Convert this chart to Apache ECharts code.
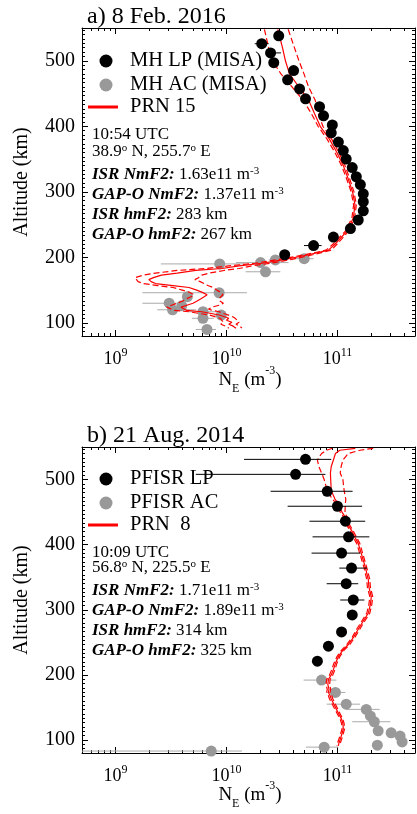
<!DOCTYPE html>
<html>
<head>
<meta charset="utf-8">
<script src="https://cdn.jsdelivr.net/npm/echarts@6/dist/echarts.min.js"></script>
<style>
html, body { margin: 0; padding: 0; background: #fff; }
#container { width: 417px; height: 814px; }
</style>
</head>
<body>
<div id="container"></div>
<script>
// ---- panel a) 8 Feb. 2016, Millstone Hill ----
var aLpAlt = [538, 526, 512, 497, 485, 471, 457, 442, 430, 416, 402, 390, 376, 363, 350, 337, 323, 311, 297, 285, 271, 257, 244, 231, 218, 204];
var aLpNe  = [2.96e10, 2.08e10, 2.5e10, 2.67e10, 4.03e10, 3.56e10, 4.56e10, 5.16e10, 6.9e10, 7.5e10, 9.0e10, 8.8e10, 1.02e11, 1.13e11, 1.2e11, 1.36e11, 1.48e11, 1.61e11, 1.71e11, 1.71e11, 1.71e11, 1.54e11, 1.31e11, 9.2e10, 6.1e10, 3.35e10];
var aLpLo  = [2.7e10, 1.8e10, 2.3e10, null, null, null, null, null, null, null, null, null, null, null, null, null, null, null, null, null, null, null, null, null, 5.0e10, null];
var aLpHi  = [3.3e10, 2.4e10, 3.1e10, null, null, null, null, null, null, null, null, null, null, null, null, null, null, null, null, null, null, null, null, null, 7.2e10, null];

var aAcAlt = [190, 192, 196, 198, 178, 146, 140, 130, 120, 126, 117, 112, 107, 90];
var aAcNe  = [8.7e9, 2.03e10, 2.76e10, 5.02e10, 2.25e10, 8.6e9, 4.45e9, 3.05e9, 3.27e9, 3.96e9, 6.15e9, 8.98e9, 6.15e9, 6.68e9];
var aAcLo  = [2.57e9, 1.22e10, 2.4e10, 4.2e10, 1.49e10, 1.75e9, null, 1.75e9, 2.38e9, null, 4.6e9, 7.7e9, 4.9e9, 5.3e9];
var aAcHi  = [1.44e10, 3.63e10, 3.4e10, 6.1e10, 3.06e10, 1.53e10, null, 4.16e9, 5.32e9, null, 8.06e9, 1.05e10, 7.7e9, 8.06e9];

var aPrnAlt = [548, 520, 500, 480, 460, 440, 420, 400, 380, 360, 340, 320, 300, 280, 260, 240, 220, 211, 204, 197, 191, 187, 183, 180, 176, 173, 169, 166, 163, 160, 157, 154, 150, 147, 143, 140, 137, 133, 130, 127, 124, 121, 119, 117, 114, 112, 109, 107, 104, 101, 98, 95, 92];
var aPrnNe  = [2.9e10, 3.2e10, 3.4e10, 3.7e10, 4.5e10, 5.5e10, 6.2e10, 7.0e10, 8.5e10, 9.9e10, 1.13e11, 1.25e11, 1.37e11, 1.44e11, 1.39e11, 1.22e11, 9.5e10, 8.3e10, 5.5e10, 3.4e10, 2.1e10, 1.3e10, 9.1e9, 5.3e9, 3.6e9, 2.6e9, 2.2e9, 2.0e9, 2.1e9, 2.3e9, 3.3e9, 4.6e9, 5.4e9, 6.0e9, 6.7e9, 6.3e9, 5.9e9, 5.4e9, 5.0e9, 4.4e9, 3.9e9, 3.8e9, 4.4e9, 6.0e9, 7.5e9, 8.6e9, 9.8e9, 1.05e10, 1.0e10, 1.12e10, 1.05e10, 1.15e10, 1.22e10];
var aPrnLo  = [2.2e10, 2.4e10, 2.6e10, 3.1e10, 3.9e10, 4.9e10, 5.8e10, 6.7e10, 8.1e10, 9.5e10, 1.09e11, 1.21e11, 1.33e11, 1.4e11, 1.35e11, 1.18e11, 9.1e10, 7.9e10, 5.1e10, 3.0e10, 1.8e10, 1.05e10, 6.5e9, 3.6e9, 2.3e9, 1.8e9, 1.5e9, 1.5e9, 1.6e9, 1.8e9, 2.4e9, 3.3e9, 4.0e9, 4.6e9, 5.1e9, 4.8e9, 4.4e9, 4.0e9, 3.6e9, 3.2e9, 2.9e9, 2.9e9, 3.4e9, 4.6e9, 5.9e9, 7.0e9, 8.1e9, 8.8e9, 8.5e9, 9.4e9, 8.9e9, 9.8e9, 1.05e10];
var aPrnHi  = [3.6e10, 4.1e10, 4.5e10, 5.0e10, 5.5e10, 6.3e10, 6.7e10, 7.4e10, 8.9e10, 1.03e11, 1.17e11, 1.29e11, 1.41e11, 1.48e11, 1.43e11, 1.26e11, 9.9e10, 8.8e10, 6.0e10, 3.9e10, 2.5e10, 1.7e10, 1.3e10, 9.5e9, 7.0e9, 6.0e9, 5.6e9, 5.2e9, 5.8e9, 6.3e9, 6.8e9, 7.6e9, 8.2e9, 8.8e9, 9.3e9, 9.0e9, 8.6e9, 8.8e9, 9.4e9, 8.6e9, 7.4e9, 6.9e9, 7.5e9, 8.6e9, 9.6e9, 1.04e10, 1.15e10, 1.2e10, 1.18e10, 1.3e10, 1.22e10, 1.32e10, 1.38e10];

// ---- panel b) 21 Aug. 2014, Poker Flat ----
var bLpAlt = [531, 508, 482, 459, 436, 412, 387, 364, 340, 315, 292, 266, 244, 221];
var bLpNe  = [5.16e10, 4.2e10, 8.1e10, 1.0e11, 1.18e11, 1.26e11, 1.09e11, 1.34e11, 1.2e11, 1.39e11, 1.36e11, 1.09e11, 8.3e10, 6.6e10];
var bLpLo  = [1.44e10, 5.3e9, 2.5e10, 3.56e10, 5.6e10, 5.97e10, 5.85e10, 1.04e11, 8.0e10, 1.06e11, null, null, null, null];
var bLpHi  = [8.8e10, 7.8e10, 1.37e11, 1.67e11, 1.78e11, 1.94e11, 1.61e11, 1.85e11, 1.54e11, 1.75e11, null, null, null, null];

var bAcAlt = [192, 173, 155, 147, 137, 128, 114, 111, 106, 97, 92, 89, 83];
var bAcNe  = [7.2e10, 9.6e10, 1.2e11, 1.82e11, 1.98e11, 2.15e11, 2.33e11, 3.05e11, 3.67e11, 3.83e11, 2.29e11, 7.6e10, 7.3e9];
var bAcLo  = [4.96e10, 8.0e10, 8.0e10, 1.2e11, null, 1.36e11, null, null, null, null, null, 5.2e10, 5e8];
var bAcHi  = [9.8e10, 1.18e11, 1.6e11, 2.4e11, null, 3.0e11, null, null, null, null, null, 1.02e11, 1.38e10];

var bPrnAlt = [548, 545, 540, 530, 520, 510, 500, 483, 470, 463, 450, 442, 430, 422, 410, 402, 385, 366, 346, 335, 320, 308, 295, 282, 270, 258, 247, 238, 228, 218, 208, 200, 193, 185, 178, 173, 168, 163, 155, 147, 140, 132, 125, 117, 110, 101, 95, 91];
var bPrnNe  = [1.45e11, 1.05e11, 9.6e10, 9.2e10, 8.8e10, 8.65e10, 8.7e10, 8.8e10, 9.5e10, 1.02e11, 1.1e11, 1.18e11, 1.25e11, 1.34e11, 1.45e11, 1.54e11, 1.65e11, 1.78e11, 1.9e11, 1.92e11, 2.02e11, 1.98e11, 1.9e11, 1.7e11, 1.54e11, 1.4e11, 1.26e11, 1.12e11, 1.02e11, 9.6e10, 9.2e10, 8.8e10, 8.3e10, 8.2e10, 8.4e10, 8.3e10, 8.6e10, 8.8e10, 9.3e10, 9.8e10, 1.03e11, 1.09e11, 1.12e11, 1.13e11, 1.1e11, 1.06e11, 1.03e11, 1.02e11];
var bPrnLo  = [9.0e10, 8.0e10, 7.2e10, 6.6e10, 6.8e10, 7.2e10, 7.6e10, 8.1e10, 9.0e10, 9.8e10, 1.06e11, 1.14e11, 1.21e11, 1.3e11, 1.4e11, 1.49e11, 1.6e11, 1.73e11, 1.84e11, 1.86e11, 1.96e11, 1.92e11, 1.84e11, 1.65e11, 1.49e11, 1.36e11, 1.22e11, 1.09e11, 9.9e10, 9.3e10, 8.9e10, 8.5e10, 8.0e10, 7.9e10, 8.1e10, 8.0e10, 8.3e10, 8.5e10, 9.0e10, 9.5e10, 1.0e11, 1.06e11, 1.09e11, 1.1e11, 1.07e11, 1.03e11, 1.0e11, 9.9e10];
var bPrnHi  = [2.1e11, 1.6e11, 1.25e11, 1.12e11, 1.08e11, 1.06e11, 1.12e11, 1.15e11, 1.19e11, 1.18e11, 1.17e11, 1.22e11, 1.29e11, 1.38e11, 1.5e11, 1.59e11, 1.7e11, 1.83e11, 1.96e11, 1.98e11, 2.08e11, 2.04e11, 1.96e11, 1.75e11, 1.59e11, 1.44e11, 1.3e11, 1.15e11, 1.05e11, 9.9e10, 9.5e10, 9.1e10, 8.6e10, 8.5e10, 8.7e10, 8.6e10, 8.9e10, 9.1e10, 9.6e10, 1.01e11, 1.06e11, 1.12e11, 1.15e11, 1.16e11, 1.13e11, 1.09e11, 1.06e11, 1.05e11];

// ---- axes ----
var xMin = 5e8, xMax = 5e11;
var yMin = 80, yMax = 550;
var xMajor = [1e9, 1e10, 1e11];
var xMinor = [6e8, 7e8, 8e8, 9e8, 2e9, 3e9, 4e9, 5e9, 6e9, 7e9, 8e9, 9e9, 2e10, 3e10, 4e10, 5e10, 6e10, 7e10, 8e10, 9e10, 2e11, 3e11, 4e11];
var yMajor = [100, 200, 300, 400, 500];
var yMinor = [];
for (var t = 0; t <= 70; t++) yMinor.push(80 + t * 100 / 15);

var FONT = 'Liberation Serif';

var myChart = echarts.init(document.getElementById('container'));

function pairs(xs, ys) {
    return xs.map(function (x, i) { return [x, ys[i]]; });
}
function barItems(lo, hi, alt) {
    var out = [];
    for (var i = 0; i < alt.length; i++) {
        if (lo[i] != null) out.push([lo[i], hi[i], alt[i]]);
    }
    return out;
}
function renderBar(params, api) {
    var p1 = api.coord([api.value(0), api.value(2)]);
    var p2 = api.coord([api.value(1), api.value(2)]);
    return {
        type: 'line',
        shape: { x1: p1[0], y1: p1[1], x2: p2[0], y2: p2[1] },
        style: { stroke: api.visual('color'), lineWidth: 1 }
    };
}

var grids = [
    { left: 82, top: 28, width: 333, height: 308 },
    { left: 82, top: 447, width: 333, height: 306 }
];

var xAxes = [], yAxes = [];
grids.forEach(function (g, gi) {
    var line = { onZero: false, lineStyle: { color: '#000', width: 1 } };
    var xBase = { gridIndex: gi, type: 'log', logBase: 10, min: xMin, max: xMax, splitLine: { show: false } };
    xAxes.push(Object.assign({}, xBase, {
        position: 'bottom',
        axisLine: line,
        axisTick: { inside: true, length: 6, customValues: xMajor, lineStyle: { color: '#000' } },
        axisLabel: {
            customValues: xMajor, margin: 11, color: '#000',
            formatter: function (v) {
                var e = Math.round(Math.log(v) / Math.LN10);
                return '{b|10}{s|' + e + '}';
            },
            rich: {
                b: { fontFamily: FONT, fontSize: 18, lineHeight: 24, color: '#000' },
                s: { fontFamily: FONT, fontSize: 12, lineHeight: 10, verticalAlign: 'top', color: '#000' }
            }
        }
    }));
    xAxes.push(Object.assign({}, xBase, {
        position: 'bottom', axisLine: { show: false, onZero: false },
        axisTick: { inside: true, length: 3, customValues: xMinor, lineStyle: { color: '#000' } },
        axisLabel: { show: false }
    }));
    xAxes.push(Object.assign({}, xBase, {
        position: 'top', axisLine: line,
        axisTick: { inside: true, length: 6, customValues: xMajor, lineStyle: { color: '#000' } },
        axisLabel: { show: false }
    }));
    xAxes.push(Object.assign({}, xBase, {
        position: 'top', axisLine: { show: false, onZero: false },
        axisTick: { inside: true, length: 3, customValues: xMinor, lineStyle: { color: '#000' } },
        axisLabel: { show: false }
    }));

    var yBase = { gridIndex: gi, type: 'value', min: yMin, max: yMax, splitLine: { show: false } };
    yAxes.push(Object.assign({}, yBase, {
        position: 'left', axisLine: line,
        axisTick: { inside: true, length: 6, customValues: yMajor, lineStyle: { color: '#000' } },
        axisLabel: { customValues: yMajor, margin: 7, color: '#000', fontFamily: FONT, fontSize: 20 },
        name: 'Altitude (km)',
        nameLocation: 'middle',
        nameGap: 50,
        nameTextStyle: { fontFamily: FONT, fontSize: 20, color: '#000' }
    }));
    yAxes.push(Object.assign({}, yBase, {
        position: 'left', axisLine: { show: false, onZero: false },
        axisTick: { inside: true, length: 3, customValues: yMinor, lineStyle: { color: '#000' } },
        axisLabel: { show: false }
    }));
    yAxes.push(Object.assign({}, yBase, {
        position: 'right', axisLine: line,
        axisTick: { inside: true, length: 6, customValues: yMajor, lineStyle: { color: '#000' } },
        axisLabel: { show: false }
    }));
    yAxes.push(Object.assign({}, yBase, {
        position: 'right', axisLine: { show: false, onZero: false },
        axisTick: { inside: true, length: 3, customValues: yMinor, lineStyle: { color: '#000' } },
        axisLabel: { show: false }
    }));
});

function panelSeries(gi, lpNe, lpAlt, lpLo, lpHi, acNe, acAlt, acLo, acHi, prnNe, prnLo, prnHi, prnAlt) {
    var ax = { xAxisIndex: gi * 4, yAxisIndex: gi * 4 };
    var red = '#ff0000';
    return [
        Object.assign({ type: 'custom', renderItem: renderBar, itemStyle: { color: '#aaaaaa' },
            encode: { x: [0, 1], y: 2 }, data: barItems(acLo, acHi, acAlt), z: 2 }, ax),
        Object.assign({ type: 'scatter', symbolSize: 11, itemStyle: { color: '#999999', opacity: 1 },
            data: pairs(acNe, acAlt), z: 3 }, ax),
        Object.assign({ type: 'line', symbol: 'none', lineStyle: { color: red, width: 1.2, type: [6, 3] },
            data: pairs(prnLo, prnAlt), z: 4 }, ax),
        Object.assign({ type: 'line', symbol: 'none', lineStyle: { color: red, width: 1.2, type: [6, 3] },
            data: pairs(prnHi, prnAlt), z: 4 }, ax),
        Object.assign({ type: 'line', symbol: 'none', lineStyle: { color: red, width: 1.2 },
            data: pairs(prnNe, prnAlt), z: 5 }, ax),
        Object.assign({ type: 'custom', renderItem: renderBar, itemStyle: { color: '#000000' },
            encode: { x: [0, 1], y: 2 }, data: barItems(lpLo, lpHi, lpAlt), z: 6 }, ax),
        Object.assign({ type: 'scatter', symbolSize: 11, itemStyle: { color: '#000000', opacity: 1 },
            data: pairs(lpNe, lpAlt), z: 7 }, ax)
    ];
}

var series = panelSeries(0, aLpNe, aLpAlt, aLpLo, aLpHi, aAcNe, aAcAlt, aAcLo, aAcHi, aPrnNe, aPrnLo, aPrnHi, aPrnAlt)
    .concat(panelSeries(1, bLpNe, bLpAlt, bLpLo, bLpHi, bAcNe, bAcAlt, bAcLo, bAcHi, bPrnNe, bPrnLo, bPrnHi, bPrnAlt));

// text, legend and annotations
function txt(x, y, s, size, extra) {
    return {
        type: 'text', x: x, y: y, z: 100,
        style: Object.assign({
            text: s, fill: '#000', fontFamily: FONT, fontSize: size,
            verticalAlign: 'middle', align: 'left',
            rich: {
                bi: { fontFamily: FONT, fontSize: size, fontStyle: 'italic', fontWeight: 'bold', fill: '#000' },
                sup: { fontFamily: FONT, fontSize: 11, lineHeight: 10, verticalAlign: 'top', fill: '#000' }
            }
        }, extra || {})
    };
}
function xName(cy) {
    return {
        type: 'text', x: 250, y: cy, z: 100,
        style: {
            text: '{n|N}{sub|E}{n| (m}{sup|-3}{n|)}',
            fill: '#000', fontFamily: FONT, fontSize: 19,
            align: 'center', verticalAlign: 'middle',
            rich: {
                n: { fontFamily: FONT, fontSize: 19, lineHeight: 30, fill: '#000' },
                sub: { fontFamily: FONT, fontSize: 12, lineHeight: 6, verticalAlign: 'bottom', fill: '#000' },
                sup: { fontFamily: FONT, fontSize: 12, lineHeight: 20, verticalAlign: 'top', fill: '#000' }
            }
        }
    };
}
function legendBlock(top, labels) {
    return [
        { type: 'circle', z: 100, shape: { cx: 106, cy: top, r: 6.5 }, style: { fill: '#000' } },
        txt(130, top, labels[0], 20.5),
        { type: 'circle', z: 100, shape: { cx: 106, cy: top + 24, r: 6.5 }, style: { fill: '#999999' } },
        txt(130, top + 24, labels[1], 20.5),
        { type: 'line', z: 100, shape: { x1: 88, y1: top + 46, x2: 118, y2: top + 46 }, style: { stroke: '#ff0000', lineWidth: 3 } },
        txt(130, top + 46, labels[2], 20.5)
    ];
}
function infoBlock(top, gap, lines) {
    var out = [];
    out.push(txt(92, top, lines[0], 17));
    out.push(txt(92, top + gap, lines[1], 17, { lineHeight: 18 }));
    for (var i = 2; i < lines.length; i++) {
        out.push(txt(92, top + gap + 23 + (i - 2) * 20, lines[i], 17, { lineHeight: 18 }));
    }
    return out;
}

var graphics = [
    txt(87, 17, 'a) 8 Feb. 2016', 24),
    txt(87, 436, 'b) 21 Aug. 2014', 24),
    xName(380),
    xName(795)
]
.concat(legendBlock(61, ['MH LP (MISA)', 'MH AC (MISA)', 'PRN 15']))
.concat(legendBlock(479, ['PFISR LP', 'PFISR AC', 'PRN  8']))
.concat(infoBlock(135, 17, [
    '10:54 UTC',
    '38.9{sup|o} N, 255.7{sup|o} E',
    '{bi|ISR NmF2:} 1.63e11 m{sup|-3}',
    '{bi|GAP-O NmF2:} 1.37e11 m{sup|-3}',
    '{bi|ISR hmF2:} 283 km',
    '{bi|GAP-O hmF2:} 267 km'
]))
.concat(infoBlock(553, 15, [
    '10:09 UTC',
    '56.8{sup|o} N, 225.5{sup|o} E',
    '{bi|ISR NmF2:} 1.71e11 m{sup|-3}',
    '{bi|GAP-O NmF2:} 1.89e11 m{sup|-3}',
    '{bi|ISR hmF2:} 314 km',
    '{bi|GAP-O hmF2:} 325 km'
]));

option = {
    animation: false,
    backgroundColor: '#ffffff',
    grid: grids,
    xAxis: xAxes,
    yAxis: yAxes,
    series: series,
    graphic: graphics
};
myChart.setOption(option);
</script>
</body>
</html>
